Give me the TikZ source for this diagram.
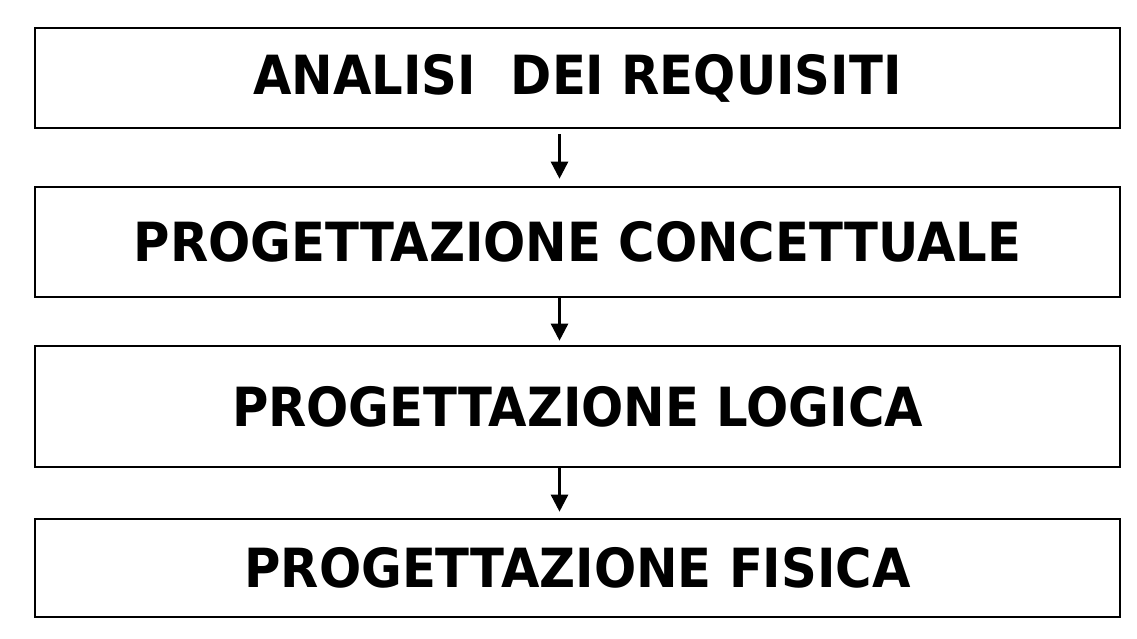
\documentclass[tikz,border=0pt]{standalone}
\usepackage{fontspec}
\setmainfont[FakeStretch=0.92]{DejaVu Sans}
\usetikzlibrary{arrows.meta}
\tikzset{
  phase/.style={draw, line width=2.6pt, minimum width=1085pt, inner sep=0pt,
    font=\fontsize{54}{60}\selectfont\bfseries},
  flow/.style={line width=2.6pt, -{Triangle[length=17pt,width=17pt]}}
}
\begin{document}
\begin{tikzpicture}[x=1pt, y=-1pt]
  \useasboundingbox (0,0) rectangle (1137,639);
  \node[phase, minimum height=100pt] (req) at (577.5, 78) {ANALISI\ \ DEI REQUISITI};
  \node[phase, minimum height=110pt] (conc) at (577.5, 242) {PROGETTAZIONE CONCETTUALE};
  \node[phase, minimum height=121pt] (logic) at (577.5, 406.5) {PROGETTAZIONE LOGICA};
  \node[phase, minimum height=98pt] (phys) at (577.5, 568) {PROGETTAZIONE FISICA};
  \draw[flow, shorten <=5pt, shorten >=7pt] ([xshift=-18pt]req.south) -- ([xshift=-18pt]conc.north);
  \draw[flow, shorten >=4pt] ([xshift=-18pt]conc.south) -- ([xshift=-18pt]logic.north);
  \draw[flow, shorten >=6pt] ([xshift=-18pt]logic.south) -- ([xshift=-18pt]phys.north);
\end{tikzpicture}
\end{document}
